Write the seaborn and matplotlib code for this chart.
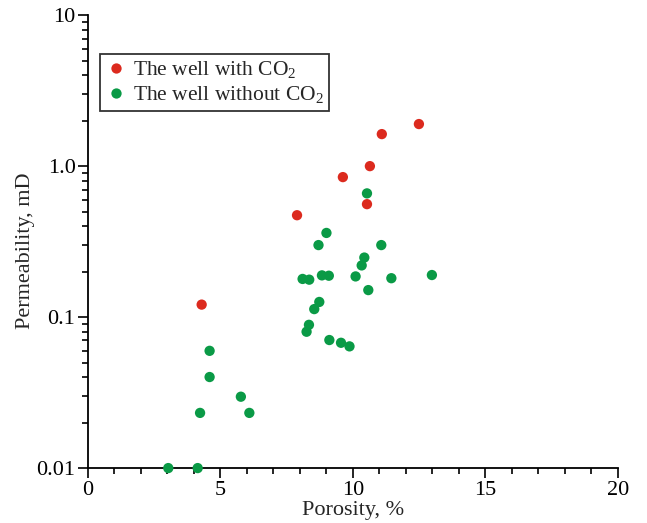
import pandas as pd
import matplotlib.pyplot as plt
import seaborn as sns
from matplotlib.ticker import LogLocator, NullFormatter, MultipleLocator

# wells with CO2
co2_por = [4.29, 7.89, 9.62, 10.53, 10.64, 11.09, 12.49]
co2_perm = [0.121, 0.473, 0.846, 0.56, 1.0, 1.63, 1.90]

# wells without CO2
noco2_por = [10.53, 9.0, 8.70, 11.07, 10.43, 10.33, 8.10, 8.35, 8.83, 9.09,
             10.10, 11.45, 12.98, 10.58, 8.73, 8.54, 8.34, 8.25, 9.11, 9.55,
             9.87, 4.59, 4.59, 5.77, 4.23, 6.09, 3.03, 4.14]
noco2_perm = [0.66, 0.361, 0.30, 0.30, 0.248, 0.22, 0.179, 0.177, 0.189, 0.188,
              0.186, 0.181, 0.19, 0.151, 0.126, 0.113, 0.0889, 0.080, 0.0705, 0.0676,
              0.064, 0.0598, 0.0401, 0.0297, 0.0232, 0.0232, 0.01, 0.01]

lab_co2 = 'The well with CO$_2$'
lab_no = 'The well without CO$_2$'

df = pd.DataFrame({
    'por': co2_por + noco2_por,
    'perm': co2_perm + noco2_perm,
    'well': [lab_co2] * len(co2_por) + [lab_no] * len(noco2_por),
})

sns.set_style('white')
plt.rcParams['font.family'] = ['Liberation Serif', 'DejaVu Serif']
plt.rcParams['mathtext.fontset'] = 'custom'
plt.rcParams['mathtext.rm'] = 'Liberation Serif'

fig = plt.figure(figsize=(6.47, 5.23), dpi=100)
ax = fig.add_axes([0.1360, 0.105, 0.8190, 0.866])

sns.scatterplot(data=df, x='por', y='perm', hue='well',
                palette={lab_co2: '#dc2a1e', lab_no: '#0a9a46'},
                s=55, edgecolor='none', ax=ax, clip_on=False, zorder=3)

ax.set_yscale('log')
ax.set_xlim(0, 20)
ax.set_ylim(0.01, 10)
ax.set_yticks([0.01, 0.1, 1, 10])
ax.set_yticklabels(['0.01', '0.1', '1.0', '10'])
ax.yaxis.set_minor_locator(LogLocator(base=10, subs=range(2, 10)))
ax.yaxis.set_minor_formatter(NullFormatter())
ax.xaxis.set_major_locator(MultipleLocator(5))
ax.xaxis.set_minor_locator(MultipleLocator(1))

for s in ['top', 'right']:
    ax.spines[s].set_visible(False)
for s in ['left', 'bottom']:
    ax.spines[s].set_color('black')
    ax.spines[s].set_linewidth(1.3)

ax.tick_params(axis='both', which='major', direction='out', length=7, width=1.2,
               colors='black', labelsize=16, pad=2, left=True, bottom=True)
ax.tick_params(axis='both', which='minor', direction='out', length=4, width=1.2,
               colors='black', left=True, bottom=True)

ax.set_xlabel('Porosity, %', fontsize=16, labelpad=1)
ax.set_ylabel('Permeability, mD', fontsize=16)
ax.yaxis.set_label_coords(-0.100, 0.48)

leg = ax.legend(loc='upper left', bbox_to_anchor=(0.022, 0.914), fontsize=15.5,
                frameon=True, fancybox=False, edgecolor='black',
                handletextpad=0.3, borderpad=0.25, labelspacing=0.15,
                handlelength=1.0, borderaxespad=0)
leg.get_frame().set_linewidth(1.3)

fig.savefig('out.png', dpi=100)
